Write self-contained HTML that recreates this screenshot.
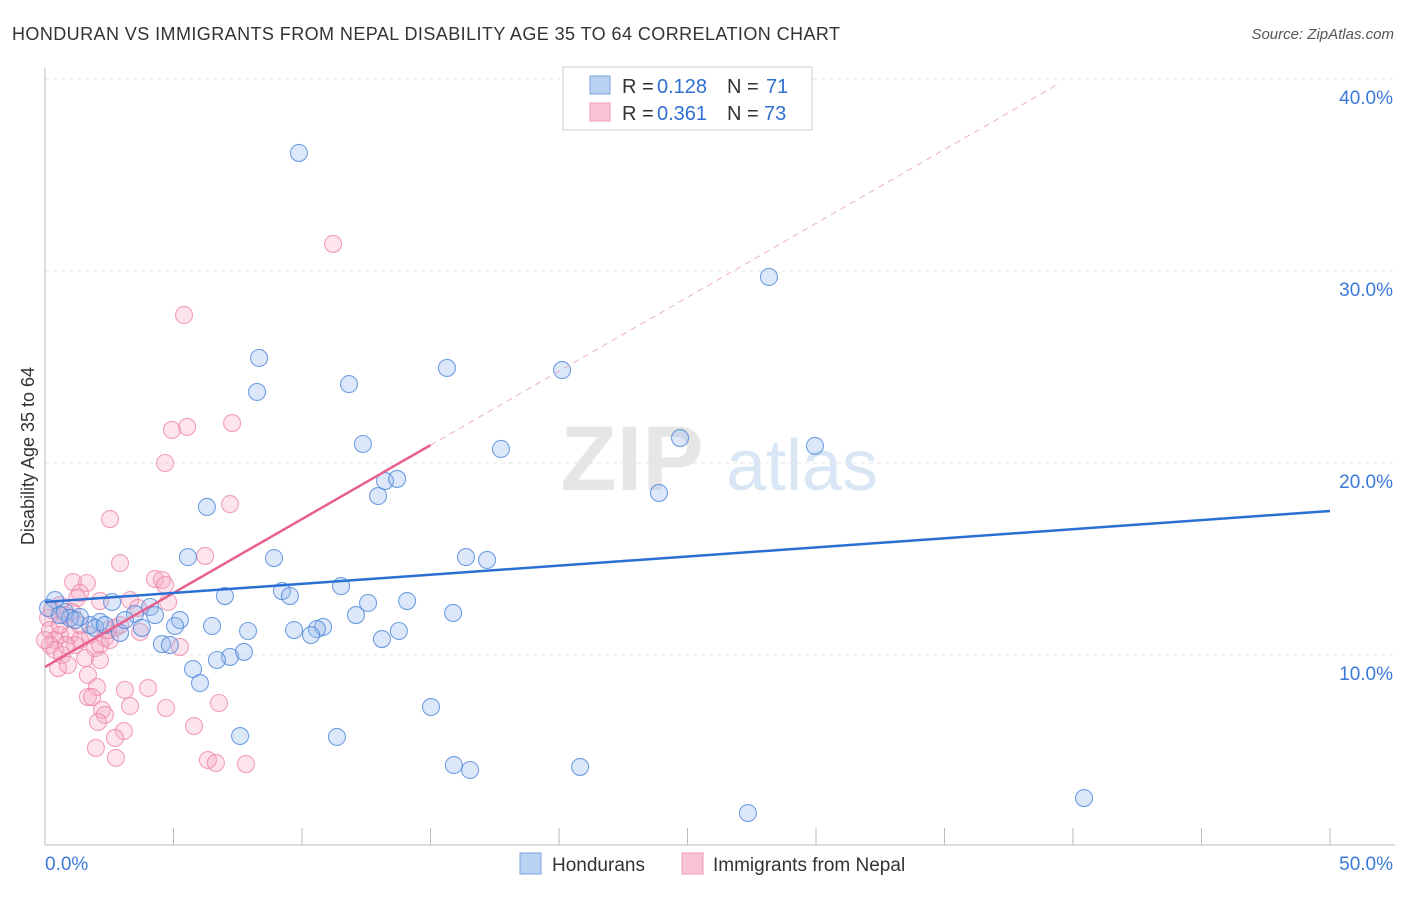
<!DOCTYPE html>
<html><head><meta charset="utf-8"><style>
body{margin:0;background:#fff;font-family:"Liberation Sans",sans-serif;}
svg text{font-family:"Liberation Sans",sans-serif;}
</style></head><body>
<svg id="chart" width="1406" height="892" xmlns="http://www.w3.org/2000/svg">
<text x="12" y="40" font-size="18" fill="#333" textLength="828" lengthAdjust="spacing">HONDURAN VS IMMIGRANTS FROM NEPAL DISABILITY AGE 35 TO 64 CORRELATION CHART</text>
<text x="1394" y="39" font-size="15" fill="#555" text-anchor="end" font-style="italic">Source: ZipAtlas.com</text>
<g>
<text x="632" y="490" font-size="92" fill="#e6e6e6" font-family="Liberation Serif" text-anchor="middle" font-weight="bold">ZIP</text>
<text x="802" y="490" font-size="72" fill="#d9e6f6" text-anchor="middle">atlas</text></g>
<text transform="translate(34,456) rotate(-90)" font-size="18" fill="#333" text-anchor="middle">Disability Age 35 to 64</text>
<g id="grid"></g><g id="axes"></g><g id="marks"></g>
<g>
<rect x="563" y="67" width="249" height="63" fill="#fff" stroke="#ccc"/>
<rect x="590" y="76" width="20" height="18" fill="#b9d1f3" stroke="#7aa5e0"/>
<rect x="590" y="103" width="20" height="18" fill="#f8c4d5" stroke="#ee9bb7"/>
<text x="622" y="93" font-size="20" fill="#333">R =</text><text x="657" y="93" font-size="20" fill="#2f6fd0">0.128</text>
<text x="727" y="93" font-size="20" fill="#333">N =</text><text x="766" y="93" font-size="20" fill="#2f6fd0">71</text>
<text x="622" y="120" font-size="20" fill="#333">R =</text><text x="657" y="120" font-size="20" fill="#2f6fd0">0.361</text>
<text x="727" y="120" font-size="20" fill="#333">N =</text><text x="764" y="120" font-size="20" fill="#2f6fd0">73</text>
</g>
<g>
<rect x="520" y="853" width="21" height="21" fill="#b9d1f3" stroke="#7aa5e0"/>
<text x="552" y="871" font-size="19" fill="#333">Hondurans</text>
<rect x="682" y="853" width="21" height="21" fill="#f8c4d5" stroke="#ee9bb7"/>
<text x="713" y="871" font-size="19" fill="#333">Immigrants from Nepal</text>
</g>
</svg>
<script>
const blueX=[9.88,28.17,8.33,8.25,11.83,15.64,20.12,12.37,24.71,29.96,17.74,13.23,13.70,12.96,23.89,6.30,5.56,8.91,16.38,17.20,11.52,7.00,9.22,9.53,14.09,12.57,15.88,12.10,2.61,4.09,3.50,4.28,5.25,6.50,7.90,5.06,9.69,10.82,10.58,10.35,13.77,13.11,3.77,4.55,4.86,2.92,2.14,1.75,1.36,0.78,0.39,0.12,0.97,7.74,7.20,6.69,5.76,6.03,15.02,7.59,11.36,15.91,16.54,20.82,40.43,27.35,0.58,1.17,1.95,2.33,3.11];
const blueY=[36.15,29.69,25.47,23.70,24.11,24.95,24.84,20.99,21.30,20.89,20.73,19.06,19.17,18.28,18.44,17.71,15.10,15.05,15.10,14.95,13.59,13.07,13.33,13.07,12.81,12.71,12.19,12.08,12.76,12.50,12.14,12.08,11.82,11.51,11.25,11.51,11.30,11.46,11.35,11.04,11.25,10.83,11.41,10.57,10.52,11.15,11.72,11.56,11.98,12.24,12.86,12.45,11.93,10.16,9.90,9.74,9.27,8.54,7.29,5.78,5.73,4.27,4.01,4.17,2.55,1.77,12.08,11.82,11.41,11.56,11.82];
const pinkX=[11.21,5.41,7.28,4.94,5.53,4.67,7.20,2.53,6.23,2.92,4.28,4.55,4.67,4.79,1.09,1.63,1.36,1.25,2.14,3.31,0.58,0.78,0.12,0.19,0.39,0.58,0.97,1.36,1.75,2.33,2.72,3.70,5.25,0.19,0.39,0.66,0.51,0.89,1.17,1.95,1.56,2.14,2.53,1.67,2.02,3.11,4.01,1.67,1.83,2.22,2.33,3.31,4.71,5.80,6.77,2.06,3.07,2.72,1.98,2.76,6.34,6.65,7.82,0.27,0.58,0,1.05,1.36,0.82,2.45,2.92,2.14,3.62];
const pinkY=[31.41,27.71,22.08,21.72,21.88,20.0,17.86,17.08,15.16,14.79,13.96,13.91,13.65,12.76,13.80,13.75,13.23,12.97,12.81,12.86,12.60,12.08,11.93,11.30,10.78,11.04,11.04,10.78,11.04,10.89,11.41,11.20,10.42,10.52,10.26,10.0,9.32,9.48,10.52,10.36,9.84,10.52,10.78,8.96,8.33,8.18,8.28,7.81,7.81,7.14,6.88,7.34,7.24,6.30,7.50,6.51,6.04,5.68,5.16,4.64,4.53,4.38,4.32,12.34,11.56,10.78,12.24,11.56,10.52,11.30,11.56,9.74,12.45];
const blueTrend=[12.76,17.5];   // value at x=0 and x=50
const pinkTrend=[9.38,0.77];    // intercept, slope
const yTicks=[10,20,30,40];
const xTickLabels=["0.0%","50.0%"];
const NS="http://www.w3.org/2000/svg";
const X=v=>45+v*25.7, Y=v=>847-v*19.2;
function mk(t,a,p){const e=document.createElementNS(NS,t);for(const k in a)e.setAttribute(k,a[k]);p.appendChild(e);return e;}
const grid=document.getElementById('grid'),axes=document.getElementById('axes'),marks=document.getElementById('marks');
yTicks.forEach(v=>{
 const l=mk('line',{x1:45,x2:1395,y1:Y(v),y2:Y(v),stroke:'#e6e6e6','stroke-dasharray':'4,4'},grid);
 
 
 const t=mk('text',{x:1393,y:Y(v)+25,'font-size':19,fill:'#3b78d8','text-anchor':'end'},axes);
 t.textContent=v.toFixed(1)+'%';
 
 
});
let a=mk('line',{x1:45,x2:45,y1:68,y2:845,stroke:'#bbb'},axes);


a=mk('line',{x1:45,x2:1395,y1:845,y2:845,stroke:'#bbb'},axes);


for(let i=0;i<=10;i++){const tk=mk('line',{x1:X(i*5),x2:X(i*5),y1:828,y2:845,stroke:'#bbb'},axes);
 
 }
[[0,'start',45],[1,'end',1393]].forEach(([i,an,x])=>{const t=mk('text',{x:x,y:870,'font-size':19,fill:'#3b78d8','text-anchor':an},axes);t.textContent=xTickLabels[i];
 
 });
function dots(xs,ys,fill,stroke,name){xs.forEach((x,i)=>{const c=mk('circle',{cx:X(x),cy:Y(ys[i]),r:8.5,fill:fill,stroke:stroke,'stroke-width':1.1},marks);
 
 });}
dots(pinkX,pinkY,'rgba(246,170,196,0.33)','rgba(238,130,165,0.75)','nepal-point');
dots(blueX,blueY,'rgba(150,185,238,0.33)','rgba(70,130,215,0.75)','honduran-point');
let l=mk('line',{x1:X(15),y1:Y(pinkTrend[0]+pinkTrend[1]*15),x2:X(39.5),y2:Y(pinkTrend[0]+pinkTrend[1]*39.5),stroke:'#eab0c4','stroke-dasharray':'6,5','stroke-width':1},marks);


l=mk('line',{x1:X(0),y1:Y(pinkTrend[0]),x2:X(15),y2:Y(pinkTrend[0]+pinkTrend[1]*15),stroke:'#e8608f','stroke-width':2.5},marks);


l=mk('line',{x1:X(0),y1:Y(blueTrend[0]),x2:X(50),y2:Y(blueTrend[1]),stroke:'#2a6fd4','stroke-width':2.5},marks);


</script>
</body></html>
